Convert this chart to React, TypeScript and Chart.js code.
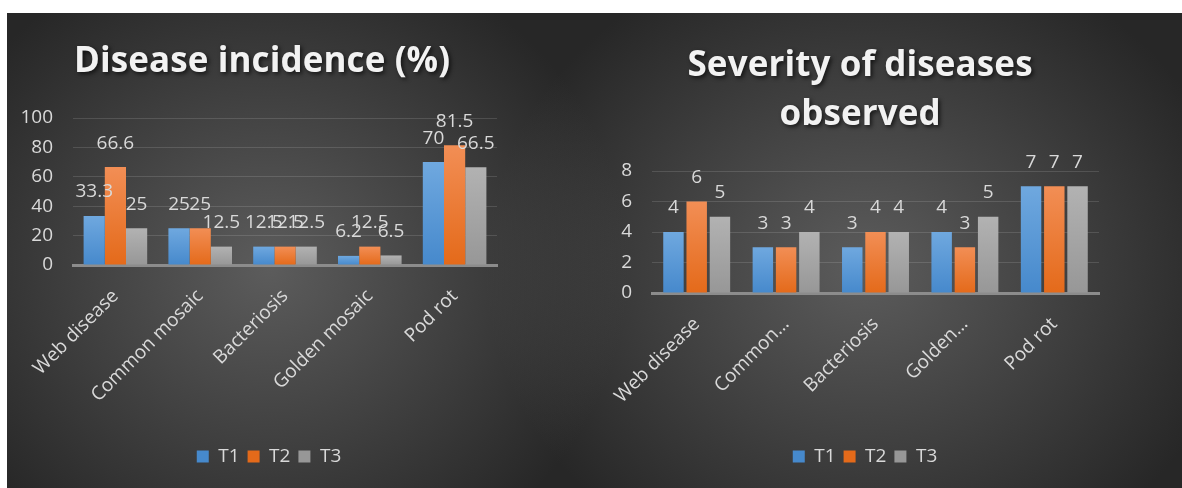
import React, { useEffect, useRef } from 'react';
import { Chart, registerables } from 'chart.js';

Chart.register(...registerables);

// ---- data ----
const categories = ['Web disease', 'Common mosaic', 'Bacteriosis', 'Golden mosaic', 'Pod rot'];
const seriesNames = ['T1', 'T2', 'T3'];

const incidenceT1 = [33.3, 25, 12.5, 6.2, 70];
const incidenceT2 = [66.6, 25, 12.5, 12.5, 81.5];
const incidenceT3 = [25, 12.5, 12.5, 6.5, 66.5];

const severityT1 = [4, 3, 3, 4, 7];
const severityT2 = [6, 3, 4, 3, 7];
const severityT3 = [5, 4, 4, 5, 7];

const incidenceAxis = { min: 0, max: 100, step: 20 };
const severityAxis = { min: 0, max: 8, step: 2 };

const incidenceTitle = ['Disease incidence (%)'];
const severityTitle = ['Severity of diseases', 'observed'];

// ---- styles ----
const FONT = '"Open Sans", "Liberation Sans", sans-serif';
const TEXT = '#D9D9D9';
const seriesStyles = [
  { flat: '#5B9BD5', top: '#6FA8DF', bottom: '#4689CC' },
  { flat: '#ED7D31', top: '#F28E55', bottom: '#E46A1A' },
  { flat: '#A5A5A5', top: '#B2B2B2', bottom: '#979797' },
];

function barFill(style: any) {
  return (c: any) => {
    const chart = c.chart;
    if (!chart.chartArea || c.type !== 'data') return style.flat;
    const y = chart.scales.y;
    const top = y.getPixelForValue(c.raw);
    const bottom = y.getPixelForValue(0);
    if (!isFinite(top) || !isFinite(bottom) || top === bottom) return style.flat;
    const g = chart.ctx.createLinearGradient(0, top, 0, bottom);
    g.addColorStop(0, style.top);
    g.addColorStop(1, style.bottom);
    return g;
  };
}

const valueLabels = {
  id: 'valueLabels',
  afterDatasetsDraw(chart: any) {
    const ctx = chart.ctx;
    ctx.save();
    ctx.font = `19px ${FONT}`;
    ctx.fillStyle = TEXT;
    ctx.textAlign = 'center';
    ctx.textBaseline = 'middle';
    chart.data.datasets.forEach((ds: any, i: number) => {
      const meta = chart.getDatasetMeta(i);
      meta.data.forEach((bar: any, j: number) => {
        ctx.fillText(String(ds.data[j]), bar.x, bar.y - 24);
      });
    });
    ctx.restore();
  },
};

const shadowTitle = {
  id: 'shadowTitle',
  afterDraw(chart: any, _args: any, opts: any) {
    const tb = chart.titleBlock;
    if (!tb) return;
    const ctx = chart.ctx;
    const lines: string[] = opts.lines;
    const size = opts.size;
    const lh = size * opts.lineHeight;
    ctx.save();
    ctx.font = `bold ${size}px ${FONT}`;
    (ctx as any).letterSpacing = opts.spacing + 'px';
    ctx.fillStyle = '#F2F2F2';
    ctx.textAlign = 'center';
    ctx.textBaseline = 'middle';
    ctx.shadowColor = 'rgba(0,0,0,0.65)';
    ctx.shadowBlur = 4;
    ctx.shadowOffsetX = 2;
    ctx.shadowOffsetY = 2;
    const cx = opts.cx + opts.spacing / 2;
    let y = tb.top + opts.padTop + lh / 2;
    lines.forEach((line) => {
      ctx.fillText(line, cx, y);
      y += lh;
    });
    ctx.restore();
  },
};

const legendShift = {
  id: 'legendShift',
  afterLayout(chart: any, _args: any, opts: any) {
    const lg = chart.legend;
    if (!lg) return;
    lg.left += opts.dx;
    lg.right += opts.dx;
  },
};

function makeConfig(p: any) {
  const titleSize = 35;
  const titleLH = 1.4;
  return {
    type: 'bar',
    data: {
      labels: categories,
      datasets: p.series.map((d: number[], i: number) => ({
        label: seriesNames[i],
        data: d,
        backgroundColor: barFill(seriesStyles[i]),
        borderWidth: 0,
        categoryPercentage: p.catPct,
        barPercentage: p.barPct,
      })),
    },
    options: {
      responsive: false,
      animation: false,
      devicePixelRatio: 1,
      layout: { padding: p.padding },
      scales: {
        x: {
          afterFit: (s: any) => { s.height = p.xHeight; },
          grid: { display: false, drawTicks: false },
          border: { display: true, color: '#8C8C8C', width: 3 },
          ticks: {
            color: TEXT,
            font: { family: FONT, size: 19 },
            minRotation: 45,
            maxRotation: 45,
            autoSkip: false,
            padding: 20,
            callback: (_v: any, i: number) => p.tickLabel(categories[i]),
          },
        },
        y: {
          min: p.axis.min,
          max: p.axis.max,
          afterFit: (s: any) => { s.width = p.yWidth; },
          grid: {
            drawTicks: false,
            color: (c: any) => (c.tick && c.tick.value === 0 ? 'rgba(0,0,0,0)' : 'rgba(255,255,255,0.13)'),
            lineWidth: 1,
          },
          border: { display: false },
          ticks: {
            color: TEXT,
            font: { family: FONT, size: 19 },
            stepSize: p.axis.step,
            padding: 20,
          },
        },
      },
      plugins: {
        title: {
          display: true,
          text: p.title,
          color: 'rgba(0,0,0,0)',
          font: { family: FONT, size: titleSize, weight: 'bold', lineHeight: titleLH },
          padding: { top: p.titleTop, bottom: p.titleBottom },
        },
        shadowTitle: { lines: p.title, size: titleSize, lineHeight: titleLH, padTop: p.titleTop, spacing: 0.1, cx: p.titleCx },
        legendShift: { dx: p.legendDx },
        legend: {
          position: 'bottom',
          labels: {
            color: TEXT,
            font: { family: FONT, size: 19 },
            boxWidth: 12,
            boxHeight: 12,
            padding: 8,
          },
        },
        tooltip: { enabled: false },
      },
    },
    plugins: [valueLabels, shadowTitle, legendShift],
  };
}

function BarPanel(props: any) {
  const ref = useRef<HTMLCanvasElement>(null);
  useEffect(() => {
    if (!ref.current) return;
    const chart = new Chart(ref.current, makeConfig(props.cfg) as any);
    return () => chart.destroy();
  }, []);
  return (
    <canvas
      ref={ref}
      width={props.w}
      height={props.h}
      style={{ position: 'absolute', left: props.left, top: 0, width: props.w, height: props.h }}
    />
  );
}

export default function App() {
  const leftCfg = {
    series: [incidenceT1, incidenceT2, incidenceT3],
    axis: incidenceAxis,
    title: incidenceTitle,
    titleTop: 24.5,
    titleBottom: 31.5,
    titleCx: 255,
    legendDx: 17,
    padding: { left: 0, right: 38, top: 0, bottom: 12 },
    yWidth: 66,
    xHeight: 174,
    catPct: 0.75,
    barPct: 1.0,
    tickLabel: (s: string) => s,
  };
  const rightCfg = {
    series: [severityT1, severityT2, severityT3],
    axis: severityAxis,
    title: severityTitle,
    titleTop: 28.5,
    titleBottom: 31.5,
    titleCx: 325,
    legendDx: 48,
    padding: { left: 0, right: 83, top: 0, bottom: 12 },
    yWidth: 117,
    xHeight: 146,
    catPct: 0.78,
    barPct: 0.88,
    tickLabel: (s: string) => (s.length > 12 ? s.split(' ')[0] + '…' : s),
  };
  return (
    <div
      style={{
        position: 'absolute',
        left: 7,
        top: 13,
        width: 1175,
        height: 475,
        overflow: 'hidden',
        background:
          'radial-gradient(ellipse 360px 330px at 262px 255px, rgba(92,92,92,1) 0%, rgba(38,38,38,0) 100%), radial-gradient(ellipse 380px 330px at 858px 255px, rgba(92,92,92,1) 0%, rgba(38,38,38,0) 100%), #272727',
      }}
    >
      <BarPanel cfg={leftCfg} left={0} w={528} h={475} />
      <BarPanel cfg={rightCfg} left={528} w={647} h={475} />
    </div>
  );
}
